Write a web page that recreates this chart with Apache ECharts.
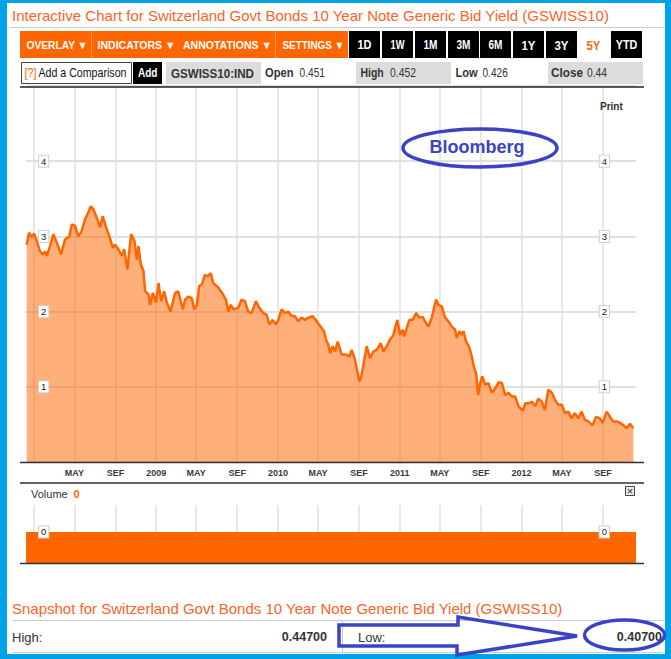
<!DOCTYPE html>
<html><head><meta charset="utf-8">
<script src="https://cdn.jsdelivr.net/npm/echarts@6/dist/echarts.min.js"></script>
<style>html,body{margin:0;padding:0;background:#fff}#c{width:671px;height:659px}</style>
</head><body><div id="c"></div>
<script>
// ---------- data ----------
const dates = ['2007-12-10','2007-12-17','2007-12-25','2008-01-01','2008-01-09','2008-01-19','2008-01-27','2008-02-03','2008-02-08','2008-02-18','2008-02-28','2008-03-09','2008-03-22','2008-04-03','2008-04-16','2008-04-23','2008-05-03','2008-05-13','2008-05-23','2008-06-02','2008-06-12','2008-06-19','2008-06-27','2008-07-07','2008-07-17','2008-07-25','2008-08-04','2008-08-14','2008-08-24','2008-08-31','2008-09-10','2008-09-20','2008-09-27','2008-10-07','2008-10-18','2008-10-28','2008-11-04','2008-11-09','2008-11-16','2008-11-24','2008-11-29','2008-12-09','2008-12-14','2008-12-22','2009-01-01','2009-01-08','2009-01-16','2009-01-25','2009-02-02','2009-02-13','2009-02-27','2009-03-08','2009-03-22','2009-03-29','2009-04-07','2009-04-18','2009-04-25','2009-05-03','2009-05-10','2009-05-18','2009-05-27','2009-06-05','2009-06-14','2009-06-21','2009-07-06','2009-07-20','2009-07-29','2009-08-05','2009-08-13','2009-08-20','2009-09-04','2009-09-14','2009-09-24','2009-10-04','2009-10-14','2009-10-27','2009-11-06','2009-11-18','2009-11-28','2009-12-06','2009-12-16','2009-12-26','2010-01-02','2010-01-12','2010-01-22','2010-02-01','2010-02-11','2010-02-21','2010-03-03','2010-03-13','2010-03-23','2010-04-02','2010-04-15','2010-04-27','2010-05-09','2010-05-19','2010-05-25','2010-06-01','2010-06-06','2010-06-14','2010-06-21','2010-06-29','2010-07-11','2010-07-24','2010-08-03','2010-08-10','2010-08-20','2010-08-27','2010-09-02','2010-09-09','2010-09-16','2010-09-24','2010-10-04','2010-10-14','2010-10-24','2010-11-05','2010-11-13','2010-11-23','2010-12-03','2010-12-13','2010-12-18','2010-12-25','2011-01-02','2011-01-10','2011-01-14','2011-01-22','2011-01-30','2011-02-09','2011-02-19','2011-03-01','2011-03-11','2011-03-18','2011-03-28','2011-04-07','2011-04-14','2011-04-20','2011-04-27','2011-05-07','2011-05-17','2011-05-27','2011-06-06','2011-06-16','2011-06-21','2011-06-29','2011-07-06','2011-07-11','2011-07-19','2011-07-29','2011-08-05','2011-08-12','2011-08-18','2011-08-24','2011-08-30','2011-09-05','2011-09-14','2011-09-24','2011-10-04','2011-10-14','2011-10-24','2011-11-03','2011-11-13','2011-11-23','2011-12-03','2011-12-13','2011-12-23','2012-01-05','2012-01-12','2012-01-21','2012-02-01','2012-02-11','2012-02-20','2012-03-02','2012-03-11','2012-03-21','2012-04-01','2012-04-10','2012-04-20','2012-05-01','2012-05-10','2012-05-20','2012-05-30','2012-06-09','2012-06-19','2012-06-29','2012-07-09','2012-07-19','2012-08-01','2012-08-11','2012-08-23','2012-08-31','2012-09-12','2012-09-22','2012-10-02','2012-10-12','2012-10-22','2012-11-01','2012-11-11','2012-11-21','2012-12-01'];
const yields = [2.89,3.05,2.99,3.04,2.94,2.80,2.76,2.80,2.74,2.87,3.03,2.92,2.76,2.96,3.00,3.16,3.14,3.00,3.07,3.23,3.32,3.40,3.36,3.25,3.12,3.27,3.12,3.00,2.85,2.89,2.83,2.74,2.83,2.56,3.03,2.94,2.69,2.87,2.63,2.54,2.27,2.23,2.09,2.25,2.12,2.38,2.14,2.27,2.12,2.00,2.25,2.27,2.03,2.16,2.20,2.18,2.03,2.09,2.34,2.36,2.49,2.47,2.51,2.38,2.32,2.23,2.16,2.00,2.09,2.03,2.05,2.16,2.14,2.00,1.98,2.14,2.05,1.98,1.96,1.83,1.89,1.83,1.89,2.03,1.98,2.00,1.94,1.94,1.87,1.92,1.89,1.92,1.94,1.87,1.80,1.74,1.63,1.56,1.45,1.54,1.47,1.60,1.43,1.43,1.40,1.49,1.36,1.20,1.07,1.16,1.34,1.54,1.38,1.47,1.49,1.58,1.47,1.54,1.63,1.69,1.78,1.89,1.69,1.76,1.67,1.78,1.89,1.89,1.98,1.92,1.93,1.87,1.80,1.92,2.05,2.16,2.09,2.07,1.92,1.87,1.80,1.76,1.65,1.74,1.69,1.74,1.60,1.52,1.40,1.25,1.18,0.89,1.05,1.14,1.03,1.05,0.92,0.98,1.06,1.05,0.89,0.92,0.87,0.87,0.74,0.68,0.78,0.78,0.80,0.74,0.84,0.80,0.69,0.96,0.92,0.83,0.76,0.76,0.65,0.67,0.58,0.65,0.58,0.67,0.56,0.54,0.49,0.60,0.58,0.52,0.67,0.60,0.54,0.54,0.52,0.49,0.45,0.51,0.45];
const volumeDates = ['2007-12-08','2012-12-09'];
const volumes = [0, 0];
const xTickDates = ['2008-01-01','2008-05-01','2008-09-01','2009-01-01','2009-05-01','2009-09-01','2010-01-01','2010-05-01','2010-09-01','2011-01-01','2011-05-01','2011-09-01','2012-01-01','2012-05-01','2012-09-01'];
const xTickLabels = ['','MAY','SEF','2009','MAY','SEF','2010','MAY','SEF','2011','MAY','SEF','2012','MAY','SEF'];
const xRange = ['2007-12-08','2012-12-09'];
const menuItems = ['OVERLAY ▼','INDICATORS ▼','ANNOTATIONS ▼','SETTINGS ▼'];
const rangeButtons = ['1D','1W','1M','3M','6M','1Y','3Y','5Y','YTD'];
const quoteLabels = ['Open','High','Low','Close'];
const quoteValues = ['0.451','0.452','0.426','0.44'];
const ticker = 'GSWISS10:IND';
const snapHigh = '0.44700';
const snapLow = '0.40700';
const titleText = 'Interactive Chart for Switzerland Govt Bonds 10 Year Note Generic Bid Yield (GSWISS10)';
const snapText = 'Snapshot for Switzerland Govt Bonds 10 Year Note Generic Bid Yield (GSWISS10)';

// ---------- helpers ----------
const parseT = d => { const p = d.split('-'); return Date.UTC(+p[0], +p[1] - 1, +p[2]); };
const tickTimes = xTickDates.map(parseT);
const labelTimes = tickTimes.filter((t, i) => xTickLabels[i] !== '');
const FONT = '"Liberation Sans", Arial, sans-serif';
const ORANGE = '#ff6600';
const BLUE = '#3a43c6';
const mctx = document.createElement('canvas').getContext('2d');
function fitScale(text, font, target) { mctx.font = font; const w = mctx.measureText(text).width; return w > 0 ? target / w : 1; }
function T(text, x, y, font, fill, align, extra) {
  return Object.assign({ type: 'text', x: x, y: y, z: 100, silent: true,
    style: { text: text, font: font, fill: fill, align: align || 'left', verticalAlign: 'middle',
             textAlign: align || 'left', textVerticalAlign: 'middle' } }, extra || {});
}
// narrow text: left-anchored, squeezed horizontally to a target width
function N(text, x, y, font, fill, target, align) {
  return T(text, x, y, font, fill, align, { scaleX: fitScale(text, font, target) });
}
function R(x, y, w, h, fill, stroke, lw) {
  return { type: 'rect', z: 90, silent: true, shape: { x: x, y: y, width: w, height: h },
    style: { fill: fill || 'none', stroke: stroke || null, lineWidth: lw || 0 } };
}
function L(x1, y1, x2, y2, color, w) {
  return { type: 'line', z: 95, silent: true, shape: { x1: x1, y1: y1, x2: x2, y2: y2 },
    style: { stroke: color, lineWidth: w || 1 } };
}

const g = [];
g.push(T(titleText, 12, 15, '15px ' + FONT, '#fa6428'));
g.push(L(10, 27.5, 663, 27.5, '#cccccc', 1));
g.push(R(20, 31, 328, 27, ORANGE));
g.push(L(91.5, 31, 91.5, 58, '#ff9a55', 1));
g.push(L(275.5, 31, 275.5, 58, '#ff9a55', 1));
const menuX = [26.5, 97.5, 183, 282.5];
const menuW = [61.5, 78, 89, 62];
const MF = 'bold 11px ' + FONT;
menuItems.forEach((m, i) => g.push(N(m, menuX[i], 45, MF, '#ffffff', menuW[i])));
const btnX = [349, 382, 415, 448, 480, 513, 546, 578, 611];
const BF = 'bold 12px ' + FONT;
rangeButtons.forEach((b, i) => {
  const active = b === '5Y';
  if (!active) g.push(R(btnX[i], 31, 31, 27, '#000000'));
  const w = b.length === 3 ? 21.5 : 14;
  g.push(N(b, btnX[i] + 15.5, 45, BF, active ? ORANGE : '#ffffff', w, 'center'));
});
const RF = '12px ' + FONT, RFB = 'bold 12px ' + FONT;
g.push(R(21.5, 62.5, 110, 21, '#ffffff', '#444444', 1));
g.push(N('[?]', 24.5, 73, RF, ORANGE, 12));
g.push(N('Add a Comparison', 38.5, 73, RF, '#111111', 88));
g.push(R(133, 62, 29, 22, '#000000'));
g.push(N('Add', 138, 73, RFB, '#ffffff', 19.5));
g.push(R(166, 62, 95, 22, '#dcdcdc'));
g.push(N(ticker, 171, 73, RFB, '#333333', 83));
g.push(R(356, 62, 95, 22, '#dcdcdc'));
g.push(R(548, 62, 95, 22, '#dcdcdc'));
const qX = [[265, 299.5], [360.5, 390], [455.5, 482.5], [551, 587]];
const qW = [[28.5, 25.5], [23.3, 26], [22.3, 25.3], [32, 20]];
quoteLabels.forEach((q, i) => {
  g.push(N(q, qX[i][0], 73, RFB, '#333333', qW[i][0]));
  g.push(N(quoteValues[i], qX[i][1], 73, RF, '#333333', qW[i][1]));
});
g.push(L(20, 87, 644, 87, '#222222', 1.5));
g.push(L(20, 462.5, 644, 462.5, '#333333', 1.5));
g.push(L(20, 483, 644, 483, '#333333', 1.5));
g.push(L(20, 563.5, 644, 563.5, '#333333', 1.5));
g.push(T('Print', 600, 106, 'bold 10px ' + FONT, '#333333'));
g.push({ type: 'ellipse', z: 110, silent: true, shape: { cx: 480, cy: 148, rx: 77, ry: 19 },
  style: { fill: 'none', stroke: BLUE, lineWidth: 3.5 } });
g.push(T('Bloomberg', 477, 147, 'bold 18px ' + FONT, BLUE, 'center'));
g.push(T('Volume', 31, 494, '11px ' + FONT, '#333333'));
g.push(T('0', 73.5, 494, 'bold 11px ' + FONT, ORANGE));
g.push(R(625.5, 486.5, 9, 9, '#eeeeee', '#444444', 1));
g.push(T('×', 630, 491, '11px ' + FONT, '#222222', 'center'));
g.push(T(snapText, 12, 608, '15px ' + FONT, '#fa6428'));
g.push(L(12, 620.5, 663, 620.5, '#cccccc', 1));
g.push(L(12, 652.5, 663, 652.5, '#cccccc', 1));
g.push(L(342.5, 620, 342.5, 652, '#cccccc', 1));
g.push(T('High:', 12, 637, '13px ' + FONT, '#333333'));
g.push(T(snapHigh, 327, 637, 'bold 12.5px ' + FONT, '#333333', 'right'));
g.push(T('Low:', 358, 637, '13px ' + FONT, '#333333'));
g.push(T(snapLow, 662, 637, 'bold 12.5px ' + FONT, '#333333', 'right'));
g.push({ type: 'polygon', z: 110, silent: true,
  shape: { points: [[339, 625], [458, 625], [458, 617], [577, 636], [457, 655], [457, 646], [339, 646]] },
  style: { fill: 'none', stroke: BLUE, lineWidth: 3.5, lineJoin: 'miter' } });
g.push({ type: 'ellipse', z: 110, silent: true, shape: { cx: 624.5, cy: 635, rx: 40, ry: 15 },
  style: { fill: 'none', stroke: BLUE, lineWidth: 3.5 } });
g.push(R(0, 0, 7, 659, '#00a2e8'));
g.push(R(665, 0, 6, 659, '#00a2e8'));
g.push(R(0, 0, 671, 3, '#00a2e8'));
g.push(R(0, 654, 671, 5, '#00a2e8'));

const gridLine = { show: true, lineStyle: { color: '#e0e0e0', width: 1.5 } };
const boxLabel = (margin, extra) => Object.assign({
  show: true, inside: true, margin: margin, fontSize: 9.5, color: '#222', fontFamily: FONT,
  backgroundColor: '#ffffff', borderColor: '#cfcfcf', borderWidth: 1, padding: [1, 2, 0, 2]
}, extra || {});

const chart = echarts.init(document.getElementById('c'), null, { renderer: 'svg' });
chart.setOption({
  animation: false,
  backgroundColor: '#ffffff',
  grid: [
    { left: 26, top: 86, width: 610, height: 376 },
    { left: 26, top: 505, width: 610, height: 58 }
  ],
  xAxis: [
    { type: 'value', gridIndex: 0, min: parseT(xRange[0]), max: parseT(xRange[1]),
      axisLine: { show: false },
      axisTick: { show: false, customValues: tickTimes },
      axisLabel: { customValues: labelTimes, fontSize: 9, fontWeight: 'bold', color: '#3a3a3a', fontFamily: FONT, margin: 6,
        formatter: v => { const i = tickTimes.indexOf(+v); return i >= 0 ? xTickLabels[i] : ''; } },
      splitLine: gridLine },
    { type: 'value', gridIndex: 1, min: parseT(xRange[0]), max: parseT(xRange[1]),
      axisLine: { show: false },
      axisTick: { show: false, customValues: tickTimes },
      axisLabel: { show: false },
      splitLine: gridLine }
  ],
  yAxis: [
    { type: 'value', gridIndex: 0, min: 0, max: 5, interval: 1, position: 'left',
      axisLine: { show: false }, axisTick: { show: false }, axisLabel: { show: false },
      splitLine: { show: true, lineStyle: { color: '#e0e0e0', width: 2 } } },
    { type: 'value', gridIndex: 0, min: 0, max: 5, position: 'left', z: 5,
      axisLine: { show: false }, axisTick: { show: false }, splitLine: { show: false },
      axisLabel: boxLabel(13, { customValues: [1, 2, 3, 4] }) },
    { type: 'value', gridIndex: 0, min: 0, max: 5, position: 'right', z: 5,
      axisLine: { show: false }, axisTick: { show: false }, splitLine: { show: false },
      axisLabel: boxLabel(27, { customValues: [1, 2, 3, 4] }) },
    { type: 'value', gridIndex: 1, min: -1.07, max: 0.93, position: 'left', z: 5,
      axisLine: { show: false }, axisTick: { show: false }, splitLine: { show: false },
      axisLabel: boxLabel(13, { customValues: [0] }) },
    { type: 'value', gridIndex: 1, min: -1.07, max: 0.93, position: 'right', z: 5,
      axisLine: { show: false }, axisTick: { show: false }, splitLine: { show: false },
      axisLabel: boxLabel(27, { customValues: [0] }) }
  ],
  series: [
    { type: 'line', xAxisIndex: 0, yAxisIndex: 0, z: 2, symbol: 'none', showSymbol: false,
      data: dates.map((d, i) => [parseT(d), yields[i]]),
      lineStyle: { color: '#ff6600', width: 2.5 },
      areaStyle: { color: '#ff6600', opacity: 0.52 } },
    { type: 'line', xAxisIndex: 1, yAxisIndex: 3, z: 2, symbol: 'none', showSymbol: false,
      data: volumeDates.map((d, i) => [parseT(d), volumes[i]]),
      lineStyle: { width: 0, color: ORANGE },
      areaStyle: { color: ORANGE, opacity: 1, origin: 'start' } }
  ],
  graphic: { elements: g }
});
</script>
</body></html>
